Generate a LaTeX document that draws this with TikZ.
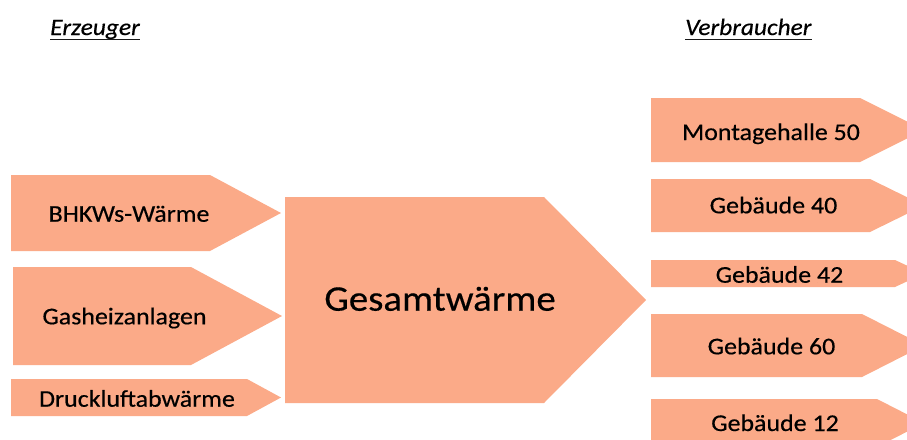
\documentclass[tikz,border=0pt]{standalone}
\usepackage{fontspec}
\setmainfont{Carlito}[FakeStretch=1.08, FakeBold=0.4]
\definecolor{flowfill}{RGB}{251,170,136}
% pentagon arrow: left, top, bottom, shoulder x, tip x
\newcommand\pentarrow[5]{%
  \fill[flowfill] (#1,#2) -- (#4,#2) -- (#5,{(#2+#3)/2}) -- (#4,#3) -- (#1,#3) -- cycle;}
\begin{document}
\begin{tikzpicture}[x=1pt,y=-1pt,
  lbl/.style={anchor=base, inner sep=0pt, text=black,
    font=\fontsize{24}{28}\selectfont},
  biglbl/.style={lbl, font=\fontsize{36}{42}\selectfont},
  head/.style={anchor=base west, inner sep=0pt, text=black,
    font=\fontsize{23.5}{27}\selectfont\itshape},
  uline/.style={line width=1.8pt, black!90}]
\useasboundingbox (0,0) rectangle (907,439);
\clip (0,0) rectangle (907,439);

% producers
\pentarrow{11}{175}{251}{210}{281}
\pentarrow{13}{267}{365}{191}{282}
\pentarrow{11}{379}{416}{247}{281}
% total
\pentarrow{285}{197}{403}{544}{646}
% consumers
\pentarrow{651}{98}{162}{860}{924}
\pentarrow{651}{179}{232}{870}{924}
\pentarrow{651}{260}{287}{895}{924}
\pentarrow{651}{314}{377}{862}{924}
\pentarrow{651}{399}{447}{877}{924}

% headings
\node[head] (erz) at (50,35) {Erzeuger};
\node[head] (verb) at (685,35) {Verbraucher};
\draw[uline] ([yshift=-4.5pt]erz.base west) -- ([yshift=-4.5pt]erz.base east);
\draw[uline] ([yshift=-4.5pt]verb.base west) -- ([yshift=-4.5pt]verb.base east);

% labels
\node[lbl] (bhkw) at (129,221.7) {BHKWs-Wärme};
\node[lbl] (gas) at (124.5,324.3) {Gasheizanlagen};
\node[lbl] (druck) at (137,406.7) {Druckluftabwärme};
\node[biglbl] (ges) at (440,310.7) {Gesamtwärme};
\node[lbl] (mh50) at (771,140) {Montagehalle 50};
\node[lbl] (g40) at (773.5,213.3) {Gebäude 40};
\node[lbl] (g42) at (779.5,282.7) {Gebäude 42};
\node[lbl] (g60) at (771.5,354.3) {Gebäude 60};
\node[lbl] (g12) at (775,431) {Gebäude 12};
\end{tikzpicture}
\end{document}
